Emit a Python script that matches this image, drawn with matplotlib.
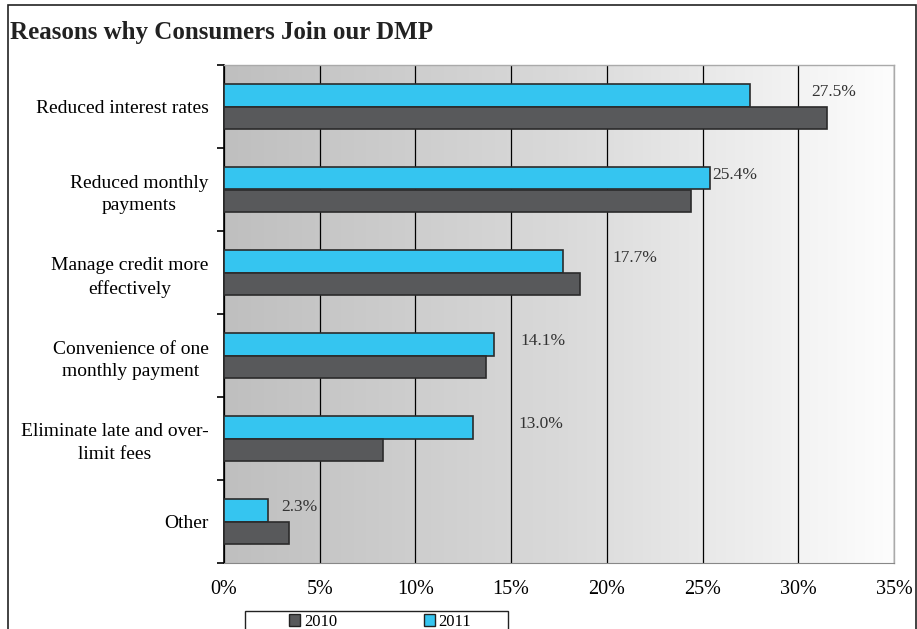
import numpy as np
import matplotlib
matplotlib.use("Agg")
import matplotlib.pyplot as plt
from matplotlib.patches import Rectangle, Patch
from matplotlib.ticker import FuncFormatter, MultipleLocator

plt.rcParams['font.family'] = ['Liberation Serif', 'DejaVu Serif']

categories = ["Reduced interest rates", "Reduced monthly\npayments",
              "Manage credit more\neffectively", "Convenience of one\nmonthly payment",
              "Eliminate late and over-\nlimit fees", "Other"]
vals_2010 = [31.5, 24.4, 18.6, 13.7, 8.3, 3.4]
vals_2011 = [27.5, 25.4, 17.7, 14.1, 13.0, 2.3]
# horizontal shift of each value label from the end of its bar (percentage points)
label_shift = [3.2, 0.1, 2.6, 1.4, 2.4, 0.7]

c2010 = "#58595b"
c2011 = "#35c5f0"

fig = plt.figure(figsize=(9.17, 6.29), dpi=100)
ax = fig.add_axes([224 / 917, 1 - 563 / 629, 670 / 917, 498 / 629])

# grey-to-white gradient plot area
grad = np.linspace(0, 1, 256).reshape(1, -1)
ax.imshow(grad, cmap=matplotlib.colors.LinearSegmentedColormap.from_list(
    "bg", ["#bfbfbf", "#d9d9d9", "#fdfdfd"]), extent=[0, 35, -0.5, 5.5],
    aspect='auto', zorder=0, origin='lower')

y = np.arange(len(categories))
h = 0.27
ax.barh(y - h / 2, vals_2011, height=h, color=c2011, edgecolor="#2b2b2b",
        linewidth=1.2, zorder=3, label="2011")
ax.barh(y + h / 2, vals_2010, height=h, color=c2010, edgecolor="#2b2b2b",
        linewidth=1.2, zorder=3, label="2010")

for yi, v, s in zip(y, vals_2011, label_shift):
    ax.text(v + s, yi - h / 2 - 0.04, f"{v:.1f}%", fontsize=12.5, color="#333333",
            va='center', ha='left', zorder=4)

ax.set_xlim(0, 35)
ax.set_ylim(5.5, -0.5)
ax.xaxis.set_major_locator(MultipleLocator(5))
ax.xaxis.set_major_formatter(FuncFormatter(lambda v, p: f"{v:.0f}%"))
ax.grid(axis='x', color='black', linewidth=0.9, zorder=1)
ax.set_axisbelow(True)

ax.set_yticks(y)
ax.set_yticklabels(categories, fontsize=14, multialignment='center',
                   linespacing=1.45)
ax.set_yticks(np.arange(-0.5, 5.6, 1), minor=True)
ax.tick_params(axis='y', which='major', length=0, pad=11)
ax.tick_params(axis='y', which='minor', length=5, width=1.2, direction='out')
ax.tick_params(axis='x', labelsize=14.5, length=0, pad=12)

for side in ['top', 'right']:
    ax.spines[side].set_color("#aaaaaa")
    ax.spines[side].set_linewidth(1)
ax.spines['bottom'].set_color("#888888")
ax.spines['left'].set_color("black")
ax.spines['left'].set_linewidth(1.2)

fig.text(10 / 917, 1 - 33 / 629, "Reasons why Consumers Join our DMP",
         fontsize=18, fontweight='bold', va='center', ha='left', color="#222222")

# outer frame
fig.patches.append(Rectangle((8 / 917, -0.1), 0.999 - 8 / 917, 1.1 - 5 / 629,
                             transform=fig.transFigure, fill=False,
                             edgecolor='#222222', linewidth=1.2))

# legend box, running past the bottom edge
fig.patches.append(Rectangle((245 / 917, -0.05), 263 / 917, 0.05 + 1 - 611 / 629,
                             transform=fig.transFigure, facecolor='white',
                             edgecolor='#222222', linewidth=1, zorder=5))
handles = [Patch(facecolor=c2010, edgecolor='#222222', label='2010'),
           Patch(facecolor=c2011, edgecolor='#222222', label='2011')]
leg = fig.legend(handles=handles, loc='upper center', ncol=2,
                 bbox_to_anchor=(380 / 917, 1 - 609 / 629), fontsize=12,
                 handlelength=0.7, handleheight=0.7, handletextpad=0.2,
                 columnspacing=5.2, borderpad=0.3, frameon=False,
                 borderaxespad=0)
leg.set_zorder(6)

fig.savefig("out.png", dpi=100)
